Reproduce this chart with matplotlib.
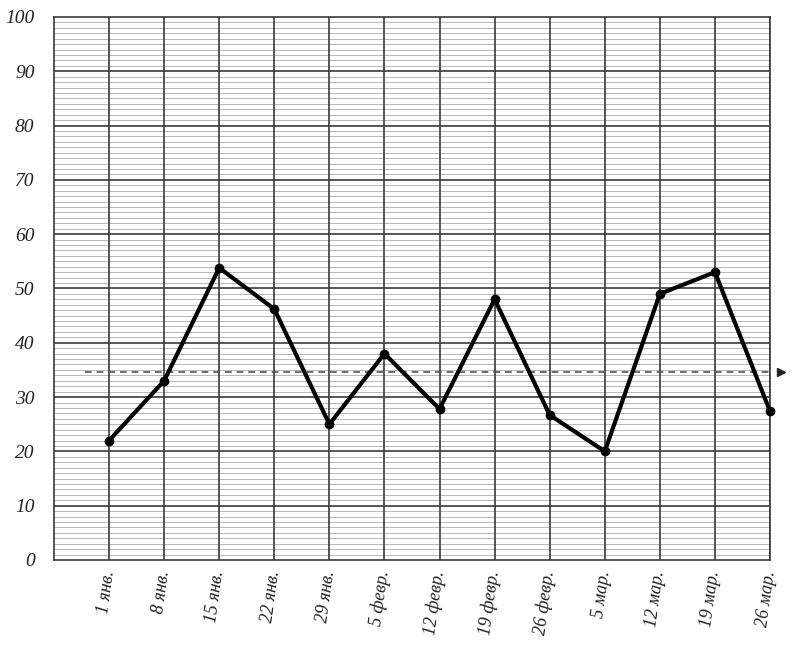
"""Weekly values January - March with reference level line."""
import matplotlib
matplotlib.use("Agg")
import matplotlib.pyplot as plt
from matplotlib.ticker import MultipleLocator

dates = ["1 янв.", "8 янв.", "15 янв.", "22 янв.", "29 янв.", "5 февр.",
         "12 февр.", "19 февр.", "26 февр.", "5 мар.", "12 мар.",
         "19 мар.", "26 мар."]
values = [22, 33, 53.8, 46.2, 25, 38, 27.8, 48, 26.7, 20, 49, 53, 27.4]
level = 34.7
level_start = 0.56

x = list(range(1, len(dates) + 1))

fig = plt.figure(figsize=(8, 6.51), dpi=100)
ax = fig.add_axes([0.0675, 0.1398, 0.895, 0.8342])

ax.set_xlim(0, 13)
ax.set_ylim(0, 100)

# paper grid: thin minor lines every unit, dark major lines every 10
ax.yaxis.set_major_locator(MultipleLocator(10))
ax.yaxis.set_minor_locator(MultipleLocator(1))
ax.set_xticks(x)
ax.grid(which="minor", axis="y", color="#b8b8b8", linewidth=0.7, zorder=0)
ax.set_axisbelow(True)
ax.hlines(range(10, 100, 10), 0, 13, color="#3a3a3a", linewidth=1.2, zorder=1)
ax.vlines(x, 0, 100, color="#3a3a3a", linewidth=1.2, zorder=1)
for spine in ax.spines.values():
    spine.set_color("#3a3a3a")
    spine.set_linewidth(1.2)

ax.tick_params(which="both", length=0)
ax.set_yticks(range(0, 101, 10))
ax.set_yticklabels([str(v) for v in range(0, 101, 10)],
                   fontfamily="Liberation Serif", fontstyle="italic",
                   fontsize=14, color="#222222")
ax.set_xticklabels(dates, fontfamily="Liberation Serif", fontstyle="italic",
                   fontsize=13, rotation=82, ha="right", va="center",
                   rotation_mode="anchor", color="#222222")
ax.tick_params(axis="x", pad=8)
ax.tick_params(axis="y", pad=14)

# reference level with arrow
ax.plot([level_start, 13], [level, level], linestyle=(0, (4, 3)),
        color="#555555", linewidth=1.2, zorder=2)
ax.plot([13.2], [level], marker=">", color="#222222", markersize=6,
        clip_on=False)

ax.plot(x, values, color="black", linewidth=3, marker="o", markersize=6,
        clip_on=False, zorder=5)

plt.savefig("out.png", dpi=100)
